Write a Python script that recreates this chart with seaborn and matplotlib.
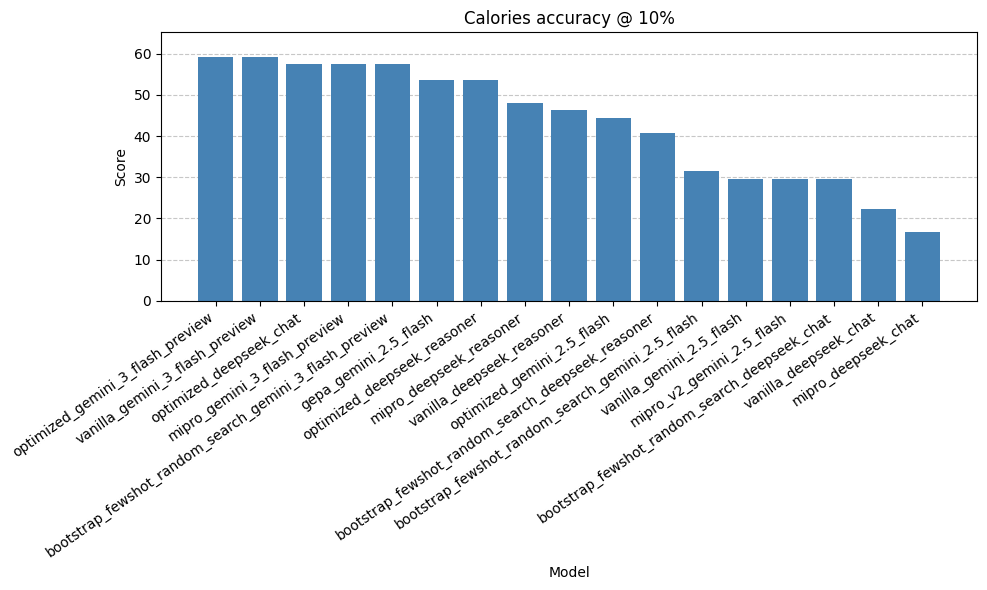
import matplotlib
matplotlib.use("Agg")
import matplotlib.pyplot as plt
import seaborn as sns
import pandas as pd

# model names in the order shown (sorted by score)
models = [
    'optimized_gemini_3_flash_preview',
    'vanilla_gemini_3_flash_preview',
    'optimized_deepseek_chat',
    'mipro_gemini_3_flash_preview',
    'bootstrap_fewshot_random_search_gemini_3_flash_preview',
    'gepa_gemini_2.5_flash',
    'optimized_deepseek_reasoner',
    'mipro_deepseek_reasoner',
    'vanilla_deepseek_reasoner',
    'optimized_gemini_2.5_flash',
    'bootstrap_fewshot_random_search_deepseek_reasoner',
    'bootstrap_fewshot_random_search_gemini_2.5_flash',
    'vanilla_gemini_2.5_flash',
    'mipro_v2_gemini_2.5_flash',
    'bootstrap_fewshot_random_search_deepseek_chat',
    'vanilla_deepseek_chat',
    'mipro_deepseek_chat',
]
scores = [59.26, 59.26, 57.41, 57.41, 57.41, 53.70, 53.70, 48.15, 46.30,
          44.44, 40.74, 31.48, 29.63, 29.63, 29.63, 22.22, 16.67]

df = pd.DataFrame({'model': models, 'score': scores})

fig, ax = plt.subplots(figsize=(10, 6), dpi=100)
sns.barplot(data=df, x='model', y='score', color='steelblue', saturation=1,
            width=0.8, ax=ax)

# seaborn clamps the x range, put back matplotlib's usual padding
n = len(models)
pad = 0.05 * (n - 1 + 0.8)
ax.set_xlim(-0.4 - pad, n - 1 + 0.4 + pad)
ax.set_ylim(0, max(scores) * 1.1)

ax.set_title('Calories accuracy @ 10%', fontsize=12)
ax.set_xlabel('Model')
ax.set_ylabel('Score')
plt.setp(ax.get_xticklabels(), rotation=35, ha='right')
ax.grid(axis='y', linestyle='--', alpha=0.7)
ax.set_axisbelow(True)

plt.tight_layout()
plt.savefig('out.png', dpi=100, bbox_inches='tight')
